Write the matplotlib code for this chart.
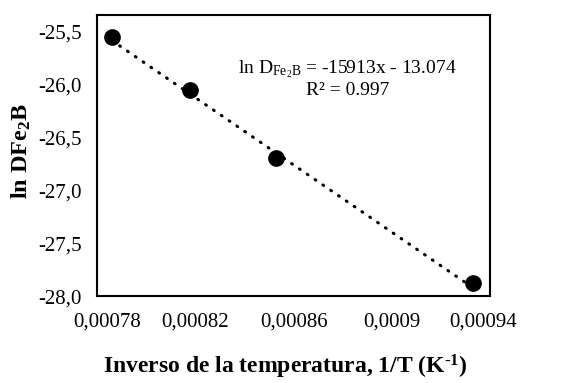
import numpy as np
import matplotlib
matplotlib.use('Agg')
import matplotlib.pyplot as plt
import matplotlib.transforms as mtransforms
from matplotlib.ticker import FuncFormatter

# datos
inv_T = [0.000786, 0.000818, 0.000853, 0.000933]
ln_D = [-25.55, -26.05, -26.69, -27.88]
x_ticks = [0.00078, 0.00082, 0.00086, 0.0009, 0.00094]
y_ticks = [-28.0, -27.5, -27.0, -26.5, -26.0, -25.5]
pendiente = -15913
intercepto = -13.074
r2 = 0.997

plt.rcParams['font.family'] = ['Liberation Serif', 'DejaVu Serif']
plt.rcParams['mathtext.fontset'] = 'custom'
plt.rcParams['mathtext.rm'] = 'Liberation Serif'
plt.rcParams['mathtext.it'] = 'Liberation Serif:italic'
plt.rcParams['mathtext.bf'] = 'Liberation Serif:bold'

fig = plt.figure(figsize=(5.78, 3.83), dpi=100)
ax = fig.add_axes([0.168, 0.227, 0.68, 0.734])

# línea de tendencia
xt = np.array([inv_T[0], inv_T[-1]])
ax.plot(xt, pendiente * xt + intercepto, color='black', lw=2.2,
        linestyle=(0, (0.3, 2.8)), dash_capstyle='round', zorder=2)
ax.plot(inv_T, ln_D, 'o', color='black', markersize=11, zorder=3)

ax.set_xlim(0.00078, 0.00094)
ax.set_ylim(-28.0, -25.34)
ax.set_xticks(x_ticks)
ax.set_yticks(y_ticks)
ax.xaxis.set_major_formatter(FuncFormatter(
    lambda v, p: f'{v:.5f}'.rstrip('0').replace('.', ',')))
ax.yaxis.set_major_formatter(FuncFormatter(
    lambda v, p: f'{v:.1f}'.replace('.', ',')))
ax.tick_params(length=0, labelsize=15)
ax.tick_params(axis='y', pad=11)
ax.tick_params(axis='x', pad=12)
for s in ax.spines.values():
    s.set_linewidth(1.5)

# etiquetas extremas del eje x desplazadas hacia dentro, como en Excel
xlabs = ax.get_xticklabels()
xlabs[0].set_transform(xlabs[0].get_transform() +
                       mtransforms.ScaledTranslation(10 / 100, 0, fig.dpi_scale_trans))
xlabs[-1].set_transform(xlabs[-1].get_transform() +
                        mtransforms.ScaledTranslation(-7 / 100, 0, fig.dpi_scale_trans))

ax.text(0.000882, -25.94,
        r'ln D$_{\mathregular{Fe_2B}}$ = -15913x - 13.074' + '\n' + f'R² = {r2}',
        ha='center', va='center', fontsize=14, linespacing=1.15)

fig.text(0.037, 0.605, r'ln DFe$_\mathbf{2}$B', rotation=90, fontsize=17.5,
         fontweight='bold', ha='center', va='center')
fig.text(0.493, 0.043, 'Inverso de la temperatura, 1/T (K$^\\mathbf{\u20101}$)',
         fontsize=17, fontweight='bold', ha='center', va='center')

fig.savefig('out.png', dpi=100)
